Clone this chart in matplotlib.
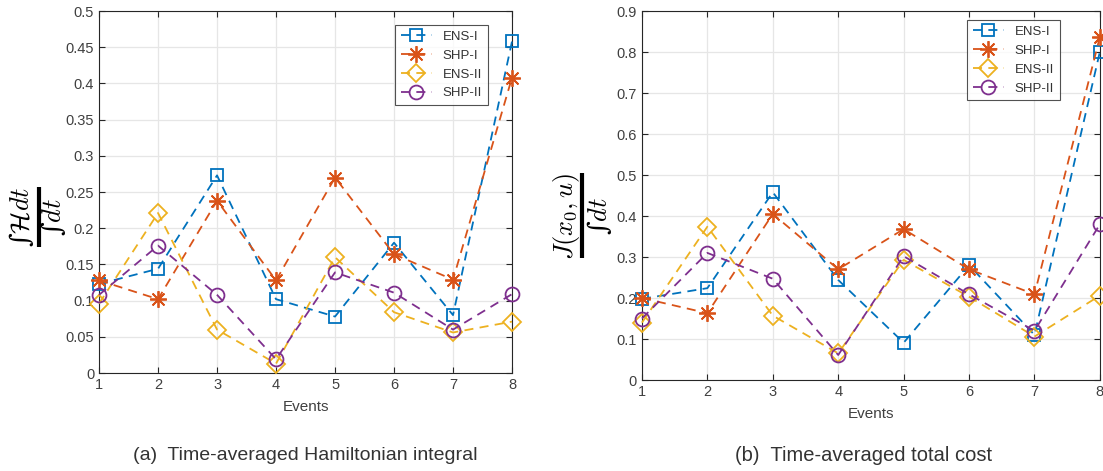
import matplotlib
matplotlib.use("Agg")
import matplotlib.pyplot as plt
from matplotlib.lines import Line2D
from matplotlib.ticker import FormatStrFormatter

plt.rcParams["font.family"] = ["Liberation Sans", "DejaVu Sans"]
plt.rcParams["mathtext.fontset"] = "cm"

events = [1, 2, 3, 4, 5, 6, 7, 8]
names = ["ENS-I", "SHP-I", "ENS-II", "SHP-II"]
colors = ["#0072BD", "#D95319", "#EDB120", "#7E2F8E"]
markers = ["s", (8, 2, 0), "D", "o"]

# (a) time-averaged Hamiltonian integral
ham_ens1 = [0.123, 0.144, 0.273, 0.102, 0.078, 0.180, 0.080, 0.458]
ham_shp1 = [0.128, 0.102, 0.238, 0.128, 0.270, 0.164, 0.129, 0.408]
ham_ens2 = [0.096, 0.221, 0.060, 0.013, 0.160, 0.084, 0.056, 0.071]
ham_shp2 = [0.108, 0.176, 0.108, 0.019, 0.139, 0.111, 0.060, 0.109]

# (b) time-averaged total cost
cost_ens1 = [0.198, 0.224, 0.458, 0.244, 0.091, 0.280, 0.110, 0.801]
cost_shp1 = [0.200, 0.163, 0.405, 0.270, 0.368, 0.270, 0.209, 0.837]
cost_ens2 = [0.140, 0.374, 0.157, 0.065, 0.293, 0.203, 0.106, 0.206]
cost_shp2 = [0.150, 0.310, 0.247, 0.061, 0.302, 0.209, 0.120, 0.380]

W, H = 1103, 471
fig = plt.figure(figsize=(W / 100, H / 100), dpi=100)
ax1 = fig.add_axes([0.0898, 0.208, 0.3744, 0.7686])
ax2 = fig.add_axes([0.582, 0.1932, 0.4152, 0.7834])


def draw(ax, series, ymax, ystep, leg_anchor):
    for vals, name, c, m in zip(series, names, colors, markers):
        ms = {"s": 9, "D": 9, "o": 10}.get(m, 12) if isinstance(m, str) else 12
        ax.plot(events, vals, linestyle=(0, (5, 3.5)), color=c, lw=1.3,
                marker=m, ms=ms, mfc="none", mec=c, mew=1.3,
                label=name, clip_on=False, zorder=3)
    ax.set_xlim(1, 8)
    ax.set_ylim(0, ymax)
    ax.set_xticks(events)
    ticks = [round(i * ystep, 3) for i in range(int(round(ymax / ystep)) + 1)]
    ax.set_yticks(ticks)
    ax.yaxis.set_major_formatter(FormatStrFormatter("%g"))
    ax.grid(True, color="#e6e6e6", lw=0.9)
    ax.set_axisbelow(True)
    ax.tick_params(direction="in", top=True, right=True, length=4,
                   color="#262626", labelcolor="#404040", labelsize=10.5)
    for s in ax.spines.values():
        s.set_color("#262626")
        s.set_linewidth(0.8)
    ax.set_xlabel("Events", fontsize=11, color="#404040", labelpad=6)
    leg = ax.legend(loc="upper right", bbox_to_anchor=leg_anchor,
                    fontsize=9.5, frameon=True, fancybox=False,
                    edgecolor="#262626", handlelength=2.4,
                    borderpad=0.45, labelspacing=0.5, borderaxespad=0)
    leg.get_frame().set_linewidth(0.8)
    for t in leg.get_texts():
        t.set_color("#333333")


draw(ax1, [ham_ens1, ham_shp1, ham_ens2, ham_shp2], 0.5, 0.05, (0.942, 0.962))
draw(ax2, [cost_ens1, cost_shp1, cost_ens2, cost_shp2], 0.9, 0.1, (0.913, 0.976))


def frac_label(num, den, x_num, x_bar, x_den, y_mid, y0, y1):
    # rotated fraction built from pieces (pixel positions from the top-left)
    fig.text(x_num / W, 1 - y_mid / H, num, rotation=90, family="DejaVu Serif",
             ha="center", va="center", fontsize=19)
    fig.text(x_den / W, 1 - y_mid / H, den, rotation=90, family="DejaVu Serif",
             ha="center", va="center", fontsize=19)
    fig.add_artist(Line2D([x_bar / W, x_bar / W], [1 - y0 / H, 1 - y1 / H],
                          transform=fig.transFigure, color="black", lw=3,
                          solid_capstyle="butt"))


frac_label("\u222b$\\mathcal{H}dt$", "\u222b$dt$",
           21, 38.5, 53, 217, 187, 247)
frac_label(r"$J(x_0,u)$", "\u222b$dt$",
           566, 581.5, 600, 216, 173, 258)

fig.text(0.2765, 0.032, "(a)  Time-averaged Hamiltonian integral",
         ha="center", va="center", fontsize=14, color="#333333")
fig.text(0.783, 0.032, "(b)  Time-averaged total cost",
         ha="center", va="center", fontsize=14.5, color="#333333")

fig.savefig("out.png", dpi=100)
